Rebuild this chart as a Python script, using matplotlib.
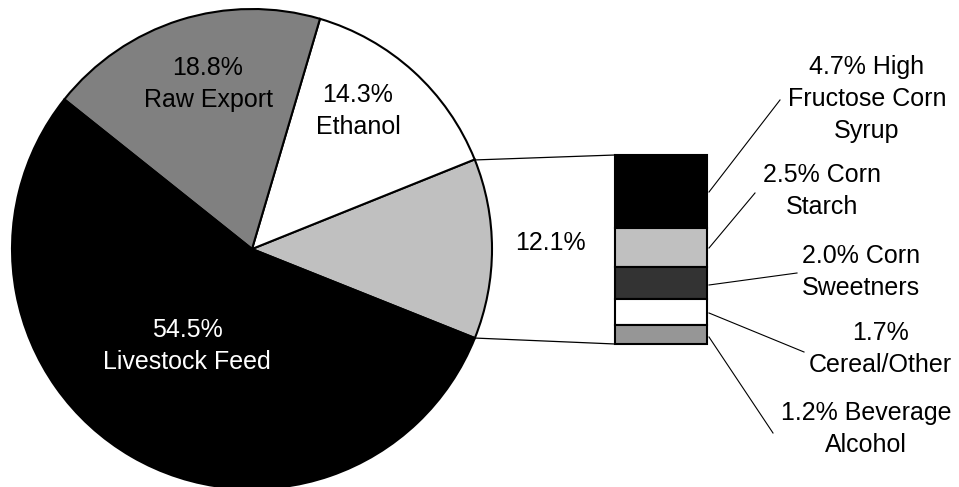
"""Corn usage pie chart with a bar breaking down the food/industrial slice"""

import math

import matplotlib.pyplot as plt

# main pie (counter-clockwise starting with the exploded slice)
pie_values = [12.1, 14.3, 18.8, 54.5]
pie_labels = ['12.1%', '14.3%\nEthanol', '18.8%\nRaw Export', '54.5%\nLivestock Feed']
pie_colors = ['#c0c0c0', '#ffffff', '#808080', '#000000']

# breakdown of the 12.1% slice, top to bottom
detail_values = [4.7, 2.5, 2.0, 1.7, 1.2]
detail_labels = ['4.7% High\nFructose Corn\nSyrup', '2.5% Corn\nStarch',
                 '2.0% Corn\nSweetners', '1.7%\nCereal/Other',
                 '1.2% Beverage\nAlcohol']
detail_colors = ['#000000', '#c0c0c0', '#333333', '#ffffff', '#969696']

W, H = 959, 487


def main():
    plt.rcParams['font.family'] = ['Liberation Sans', 'DejaVu Sans']
    fig = plt.figure(figsize=(W / 100, H / 100), dpi=100)
    ax = fig.add_axes([0, 0, 1, 1])

    # pie, centred so that the first slice points right at the bar
    cx, cy, r = 252, H - 249, 240
    start = -pie_values[0] / 2 * 3.6
    ax.pie(pie_values, colors=pie_colors, startangle=start, counterclock=True,
           center=(cx, cy), radius=r,
           wedgeprops=dict(edgecolor='black', linewidth=1.5))

    fs = 18
    ls = 1.4
    pie_text_pos = [(550, 243), (358, 111), (208, 84), (187, 346)]
    pie_text_colors = ['black', 'black', 'black', 'white']
    for lab, (x, y), c in zip(pie_labels, pie_text_pos, pie_text_colors):
        ax.text(x, H - y, lab, ha='center', va='center', fontsize=fs,
                color=c, linespacing=ls)

    # stacked breakdown bar
    bar_left, bar_right = 615, 707
    bar_top, bar_bottom = H - 155, H - 344
    scale = (bar_top - bar_bottom) / sum(detail_values)
    top = bar_top
    for v, c in zip(detail_values, detail_colors):
        h = v * scale
        ax.bar((bar_left + bar_right) / 2, h, bottom=top - h,
               width=bar_right - bar_left, color=c, edgecolor='black',
               linewidth=1.5)
        top -= h

    # connector lines from the pie slice to the bar
    a = math.radians(pie_values[0] / 2 * 3.6)
    px = cx + r * math.cos(a)
    ax.plot([px, bar_left], [cy + r * math.sin(a), bar_top], color='black', lw=0.9)
    ax.plot([px, bar_left], [cy - r * math.sin(a), bar_bottom], color='black', lw=0.9)

    # leader lines and labels for the breakdown
    leader_start_y = [192, 248, 285, 313, 337]
    leader_end = [(780, 100), (755, 193), (797, 273), (804, 352), (773, 433)]
    label_pos = [(867, 99), (822, 191), (861, 272), (880, 349), (866, 429)]
    for lab, sy, (ex, ey), (tx, ty) in zip(detail_labels, leader_start_y,
                                           leader_end, label_pos):
        ax.plot([bar_right + 2, ex], [H - sy, H - ey], color='black', lw=0.8)
        ax.text(tx, H - ty, lab, ha='center', va='center', fontsize=fs,
                linespacing=ls)

    ax.set_xlim(0, W)
    ax.set_ylim(0, H)
    ax.set_aspect('auto')
    ax.axis('off')
    fig.savefig('out.png', dpi=100)


if __name__ == '__main__':
    main()
